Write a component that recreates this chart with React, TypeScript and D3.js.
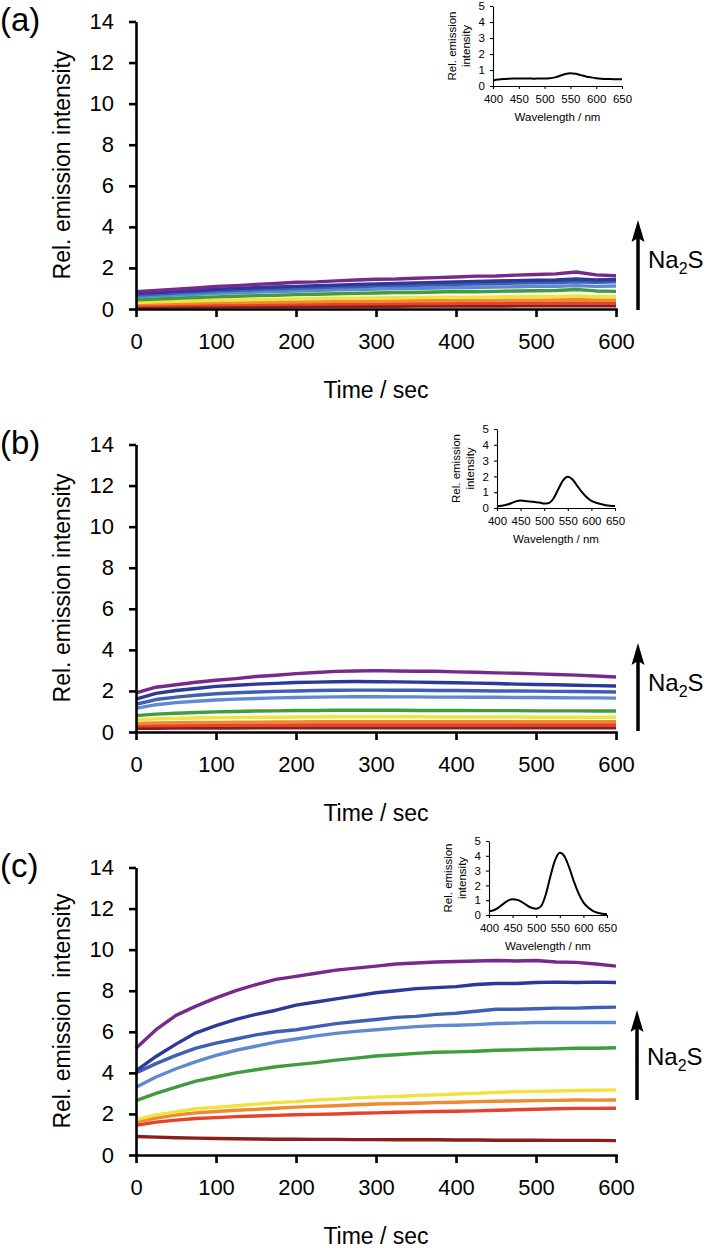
import React, { useEffect, useRef } from 'react';
import * as d3 from 'd3';

// sampling grid of the kinetic traces (sec) and of the inset spectra (nm)
const times = [0, 25, 50, 75, 100, 125, 150, 175, 200, 225, 250, 275, 300, 325, 350, 375, 400, 425, 450, 475, 500, 525, 550, 575, 600];
const wavelengths = [400, 410, 420, 430, 440, 450, 460, 470, 480, 490, 500, 510, 520, 530, 540, 550, 560, 570, 580, 590, 600, 610, 620, 630, 640, 650];

const yTicks = [0, 2, 4, 6, 8, 10, 12, 14];
const xTicks = [0, 100, 200, 300, 400, 500, 600];
const insetYTicks = [0, 1, 2, 3, 4, 5];
const insetXTicks = [400, 450, 500, 550, 600, 650];

// trace colours, lowest Na2S concentration first
const traceColors = ['#8b1d1d', '#e7432c', '#ee8a2f', '#f0e33d', '#3f9d40', '#5f8ad0', '#3d60b5', '#2c389a', '#78298b'];

// panel (a)
const darkA = [0.1, 0.1, 0.11, 0.11, 0.11, 0.12, 0.12, 0.12, 0.12, 0.13, 0.13, 0.13, 0.13, 0.13, 0.14, 0.14, 0.14, 0.14, 0.14, 0.15, 0.15, 0.15, 0.15, 0.15, 0.15];
const redA = [0.17, 0.18, 0.19, 0.2, 0.21, 0.22, 0.22, 0.23, 0.24, 0.24, 0.25, 0.25, 0.26, 0.26, 0.27, 0.27, 0.28, 0.28, 0.28, 0.29, 0.29, 0.29, 0.3, 0.3, 0.3];
const orangeA = [0.24, 0.26, 0.28, 0.29, 0.31, 0.32, 0.33, 0.34, 0.35, 0.36, 0.37, 0.38, 0.38, 0.39, 0.4, 0.4, 0.41, 0.42, 0.42, 0.43, 0.43, 0.44, 0.45, 0.44, 0.44];
const yellowA = [0.32, 0.35, 0.37, 0.4, 0.42, 0.44, 0.46, 0.47, 0.49, 0.5, 0.52, 0.53, 0.54, 0.55, 0.56, 0.57, 0.58, 0.58, 0.59, 0.6, 0.61, 0.61, 0.63, 0.6, 0.6];
const greenA = [0.45, 0.49, 0.52, 0.56, 0.59, 0.62, 0.65, 0.67, 0.7, 0.72, 0.74, 0.76, 0.78, 0.8, 0.8, 0.83, 0.85, 0.84, 0.86, 0.88, 0.89, 0.9, 0.95, 0.88, 0.86];
const lightA = [0.6, 0.64, 0.68, 0.72, 0.76, 0.79, 0.82, 0.85, 0.88, 0.9, 0.93, 0.95, 0.97, 0.99, 1.0, 1.02, 1.04, 1.05, 1.07, 1.08, 1.1, 1.11, 1.14, 1.1, 1.12];
const blueA = [0.68, 0.73, 0.78, 0.82, 0.87, 0.91, 0.95, 0.98, 1.01, 1.04, 1.07, 1.09, 1.12, 1.14, 1.16, 1.18, 1.2, 1.22, 1.24, 1.26, 1.28, 1.29, 1.33, 1.3, 1.32];
const navyA = [0.76, 0.8, 0.86, 0.9, 0.96, 1.0, 1.04, 1.07, 1.1, 1.13, 1.16, 1.19, 1.22, 1.24, 1.27, 1.29, 1.32, 1.34, 1.36, 1.38, 1.4, 1.41, 1.46, 1.42, 1.44];
const purpleA = [0.84, 0.9, 0.96, 1.02, 1.1, 1.14, 1.2, 1.24, 1.3, 1.32, 1.37, 1.41, 1.45, 1.46, 1.5, 1.53, 1.56, 1.6, 1.61, 1.65, 1.68, 1.71, 1.8, 1.66, 1.62];

// panel (b)
const darkB = [0.18, 0.18, 0.19, 0.19, 0.19, 0.19, 0.2, 0.2, 0.2, 0.2, 0.2, 0.2, 0.2, 0.2, 0.2, 0.2, 0.2, 0.2, 0.2, 0.2, 0.2, 0.2, 0.2, 0.2, 0.2];
const redB = [0.3, 0.31, 0.32, 0.33, 0.33, 0.34, 0.34, 0.34, 0.35, 0.35, 0.35, 0.35, 0.35, 0.35, 0.35, 0.35, 0.35, 0.35, 0.35, 0.35, 0.36, 0.36, 0.36, 0.36, 0.36];
const orangeB = [0.42, 0.44, 0.45, 0.46, 0.47, 0.48, 0.48, 0.49, 0.49, 0.5, 0.5, 0.5, 0.5, 0.5, 0.5, 0.5, 0.5, 0.5, 0.5, 0.5, 0.5, 0.5, 0.5, 0.5, 0.5];
const yellowB = [0.6, 0.64, 0.66, 0.68, 0.7, 0.71, 0.72, 0.72, 0.73, 0.73, 0.74, 0.74, 0.74, 0.74, 0.74, 0.73, 0.73, 0.73, 0.73, 0.73, 0.72, 0.72, 0.72, 0.72, 0.72];
const greenB = [0.8, 0.87, 0.91, 0.95, 0.98, 1.0, 1.02, 1.03, 1.05, 1.05, 1.06, 1.06, 1.06, 1.06, 1.05, 1.05, 1.05, 1.04, 1.04, 1.04, 1.03, 1.03, 1.03, 1.02, 1.02];
const lightB = [1.15, 1.33, 1.43, 1.5, 1.56, 1.6, 1.63, 1.66, 1.68, 1.7, 1.71, 1.72, 1.72, 1.71, 1.71, 1.7, 1.7, 1.69, 1.69, 1.68, 1.68, 1.67, 1.66, 1.66, 1.65];
const blueB = [1.35, 1.58, 1.7, 1.79, 1.86, 1.91, 1.95, 1.98, 2.0, 2.02, 2.03, 2.04, 2.04, 2.03, 2.03, 2.02, 2.02, 2.01, 2.0, 2.0, 1.99, 1.98, 1.97, 1.96, 1.95];
const navyB = [1.6, 1.88, 2.02, 2.12, 2.22, 2.28, 2.33, 2.37, 2.41, 2.43, 2.45, 2.46, 2.45, 2.44, 2.43, 2.41, 2.4, 2.38, 2.36, 2.33, 2.31, 2.3, 2.28, 2.26, 2.24];
const purpleB = [1.9, 2.18, 2.3, 2.42, 2.52, 2.6, 2.7, 2.76, 2.84, 2.9, 2.95, 2.97, 2.99, 2.97, 2.96, 2.96, 2.93, 2.91, 2.88, 2.86, 2.83, 2.8, 2.77, 2.73, 2.68];

// panel (c)
const darkC = [0.9, 0.87, 0.84, 0.82, 0.8, 0.79, 0.78, 0.77, 0.77, 0.76, 0.76, 0.75, 0.75, 0.74, 0.74, 0.74, 0.73, 0.73, 0.72, 0.72, 0.72, 0.71, 0.71, 0.71, 0.7];
const redC = [1.45, 1.6, 1.7, 1.78, 1.82, 1.87, 1.9, 1.93, 1.96, 1.98, 2.0, 2.03, 2.05, 2.08, 2.1, 2.12, 2.13, 2.15, 2.18, 2.2, 2.23, 2.25, 2.27, 2.27, 2.28];
const orangeC = [1.6, 1.8, 1.95, 2.05, 2.12, 2.18, 2.22, 2.28, 2.33, 2.37, 2.4, 2.45, 2.48, 2.5, 2.52, 2.55, 2.57, 2.6, 2.62, 2.63, 2.65, 2.66, 2.68, 2.67, 2.68];
const yellowC = [1.72, 1.95, 2.1, 2.25, 2.32, 2.4, 2.48, 2.55, 2.6, 2.68, 2.72, 2.78, 2.82, 2.85, 2.9, 2.93, 2.97, 3.0, 3.05, 3.08, 3.1, 3.12, 3.14, 3.15, 3.17];
const greenC = [2.65, 3.0, 3.3, 3.6, 3.8, 4.0, 4.15, 4.3, 4.4, 4.5, 4.62, 4.72, 4.82, 4.88, 4.95, 5.0, 5.02, 5.05, 5.1, 5.12, 5.15, 5.17, 5.2, 5.2, 5.22];
const lightC = [3.3, 3.8, 4.2, 4.55, 4.85, 5.1, 5.3, 5.5, 5.65, 5.8, 5.92, 6.02, 6.1, 6.18, 6.25, 6.3, 6.32, 6.35, 6.4, 6.42, 6.45, 6.45, 6.45, 6.45, 6.45];
const blueC = [4.0, 4.45, 4.85, 5.2, 5.45, 5.65, 5.85, 6.0, 6.1, 6.25, 6.4, 6.5, 6.6, 6.7, 6.75, 6.85, 6.9, 7.0, 7.1, 7.1, 7.12, 7.15, 7.15, 7.18, 7.2];
const navyC = [4.1, 4.8, 5.4, 5.95, 6.3, 6.6, 6.85, 7.05, 7.3, 7.45, 7.6, 7.75, 7.9, 8.0, 8.1, 8.15, 8.2, 8.3, 8.35, 8.35, 8.4, 8.42, 8.4, 8.42, 8.4];
const purpleC = [5.2, 6.1, 6.8, 7.25, 7.65, 8.0, 8.3, 8.55, 8.7, 8.85, 9.0, 9.1, 9.2, 9.3, 9.35, 9.4, 9.42, 9.45, 9.47, 9.45, 9.47, 9.4, 9.38, 9.3, 9.2];

// inset emission spectra
const specA = [0.35, 0.4, 0.44, 0.46, 0.47, 0.47, 0.47, 0.47, 0.46, 0.47, 0.47, 0.49, 0.54, 0.64, 0.75, 0.8, 0.76, 0.68, 0.6, 0.54, 0.49, 0.46, 0.44, 0.43, 0.42, 0.42];
const specB = [0.1, 0.14, 0.2, 0.3, 0.42, 0.47, 0.45, 0.41, 0.38, 0.35, 0.28, 0.32, 0.62, 1.2, 1.75, 1.97, 1.8, 1.4, 1.0, 0.68, 0.45, 0.33, 0.25, 0.18, 0.14, 0.12];
const specC = [0.25, 0.32, 0.5, 0.75, 0.97, 1.07, 1.02, 0.87, 0.66, 0.49, 0.42, 0.58, 1.35, 2.6, 3.7, 4.2, 3.95, 3.2, 2.25, 1.45, 0.85, 0.5, 0.28, 0.15, 0.08, 0.05];

const font = "'Liberation Sans', Arial, Helvetica, sans-serif";

const panels = [
  {
    label: '(a)', top: 0, yTitle: 'Rel. emission intensity',
    traces: [darkA, redA, orangeA, yellowA, greenA, lightA, blueA, navyA, purpleA],
    spectrum: specA,
    inset: { x0: 493, x1: 622, yb: 86, yt: 6 },
    arrow: { x: 638, tip: 220, base: 310, textY: 268 },
  },
  {
    label: '(b)', top: 423, yTitle: 'Rel. emission intensity',
    traces: [darkB, redB, orangeB, yellowB, greenB, lightB, blueB, navyB, purpleB],
    spectrum: specB,
    inset: { x0: 497, x1: 615, yb: 508, yt: 429 },
    arrow: { x: 638, tip: 643, base: 731, textY: 691 },
  },
  {
    label: '(c)', top: 846, yTitle: 'Rel. emission  intensity',
    traces: [darkC, redC, orangeC, yellowC, greenC, lightC, blueC, navyC, purpleC],
    spectrum: specC,
    inset: { x0: 489, x1: 607, yb: 915, yt: 841 },
    arrow: { x: 637, tip: 1010, base: 1100, textY: 1065 },
  },
];

const styleAxis = (a, width, size) => {
  a.attr('font-family', null).attr('font-size', null);
  a.selectAll('path, line').attr('stroke', '#000').attr('stroke-width', width);
  a.selectAll('text').attr('fill', '#000').attr('font-family', font).attr('font-size', size);
};

const drawPanel = (svg, p) => {
  const g = svg.append('g');
  const x = d3.scaleLinear().domain([0, 600]).range([136, 616]);
  const y = d3.scaleLinear().domain([0, 14]).range([p.top + 309, p.top + 21.5]);

  const line = d3
    .line()
    .x((d, i) => x(times[i]))
    .y((d) => y(d));

  p.traces.forEach((s, i) => {
    g.append('path')
      .attr('d', line(s))
      .attr('fill', 'none')
      .attr('stroke', traceColors[i])
      .attr('stroke-width', 3.4)
      .attr('stroke-linejoin', 'round');
  });

  const yAxis = g
    .append('g')
    .attr('transform', 'translate(136,0)')
    .call(d3.axisLeft(y).tickValues(yTicks).tickSize(7).tickSizeOuter(0).tickPadding(15));
  styleAxis(yAxis, 2.6, 22);

  const xAxis = g
    .append('g')
    .attr('transform', `translate(0,${p.top + 309})`)
    .call(d3.axisBottom(x).tickValues(xTicks).tickSize(8).tickSizeOuter(0).tickPadding(16));
  styleAxis(xAxis, 2.6, 22);
  xAxis.select('.domain').attr('stroke-linecap', 'square');

  const cy = p.top + 165;
  g.append('text')
    .attr('x', 62)
    .attr('y', cy)
    .attr('transform', `rotate(-90,62,${cy})`)
    .attr('text-anchor', 'middle')
    .attr('dominant-baseline', 'central')
    .attr('font-family', font)
    .attr('font-size', 23)
    .style('white-space', 'pre')
    .text(p.yTitle);

  g.append('text')
    .attr('x', 376)
    .attr('y', p.top + 398)
    .attr('text-anchor', 'middle')
    .attr('font-family', font)
    .attr('font-size', 23)
    .text('Time / sec');

  g.append('text')
    .attr('x', 0)
    .attr('y', p.top + 31)
    .attr('font-family', font)
    .attr('font-size', 33)
    .text(p.label);

  // Na2S arrow
  const ar = p.arrow;
  g.append('line')
    .attr('x1', ar.x).attr('x2', ar.x)
    .attr('y1', ar.base).attr('y2', ar.tip + 16)
    .attr('stroke', '#000').attr('stroke-width', 3.5);
  g.append('path')
    .attr('d', `M${ar.x},${ar.tip} L${ar.x - 6.5},${ar.tip + 22} L${ar.x},${ar.tip + 18} L${ar.x + 6.5},${ar.tip + 22} Z`)
    .attr('fill', '#000');
  const na = g.append('text')
    .attr('x', ar.x + 10)
    .attr('y', ar.textY)
    .attr('font-family', font)
    .attr('font-size', 24);
  na.append('tspan').text('Na');
  na.append('tspan').attr('dy', 6).attr('font-size', 16).text('2');
  na.append('tspan').attr('dy', -6).text('S');

  // inset spectrum
  const ins = p.inset;
  const xi = d3.scaleLinear().domain([400, 650]).range([ins.x0, ins.x1]);
  const yi = d3.scaleLinear().domain([0, 5]).range([ins.yb, ins.yt]);
  const spec = d3
    .line()
    .x((d, i) => xi(wavelengths[i]))
    .y((d) => yi(d))
    .curve(d3.curveMonotoneX);
  g.append('path')
    .attr('d', spec(p.spectrum))
    .attr('fill', 'none')
    .attr('stroke', '#000')
    .attr('stroke-width', 2);

  const iy = g
    .append('g')
    .attr('transform', `translate(${ins.x0},0)`)
    .call(
      d3.axisLeft(yi).tickValues(insetYTicks).tickFormat(d3.format('d'))
        .tickSize(3).tickSizeOuter(0).tickPadding(5)
    );
  styleAxis(iy, 1.1, 11.5);
  const ix = g
    .append('g')
    .attr('transform', `translate(0,${ins.yb})`)
    .call(
      d3.axisBottom(xi).tickValues(insetXTicks).tickFormat(d3.format('d'))
        .tickSize(3).tickSizeOuter(0).tickPadding(6)
    );
  styleAxis(ix, 1.1, 11.5);

  const icy = (ins.yb + ins.yt) / 2;
  [['Rel. emission', ins.x0 - 41], ['intensity', ins.x0 - 27]].forEach(([t, tx]) => {
    g.append('text')
      .attr('x', tx)
      .attr('y', icy)
      .attr('transform', `rotate(-90,${tx},${icy})`)
      .attr('text-anchor', 'middle')
      .attr('dominant-baseline', 'central')
      .attr('font-family', font)
      .attr('font-size', 11.5)
      .text(t);
  });
  g.append('text')
    .attr('x', (ins.x0 + ins.x1) / 2)
    .attr('y', ins.yb + 35)
    .attr('text-anchor', 'middle')
    .attr('font-family', font)
    .attr('font-size', 11.5)
    .text('Wavelength / nm');
};

export default function App() {
  const ref = useRef(null);

  useEffect(() => {
    const svg = d3.select(ref.current);
    svg.selectAll('*').remove();
    svg.append('rect').attr('width', 712).attr('height', 1248).attr('fill', '#fff');
    panels.forEach((p) => drawPanel(svg, p));
  }, []);

  return (
    <svg
      ref={ref}
      width={712}
      height={1248}
      style={{ position: 'absolute', left: 0, top: 0, display: 'block' }}
    ></svg>
  );
}
